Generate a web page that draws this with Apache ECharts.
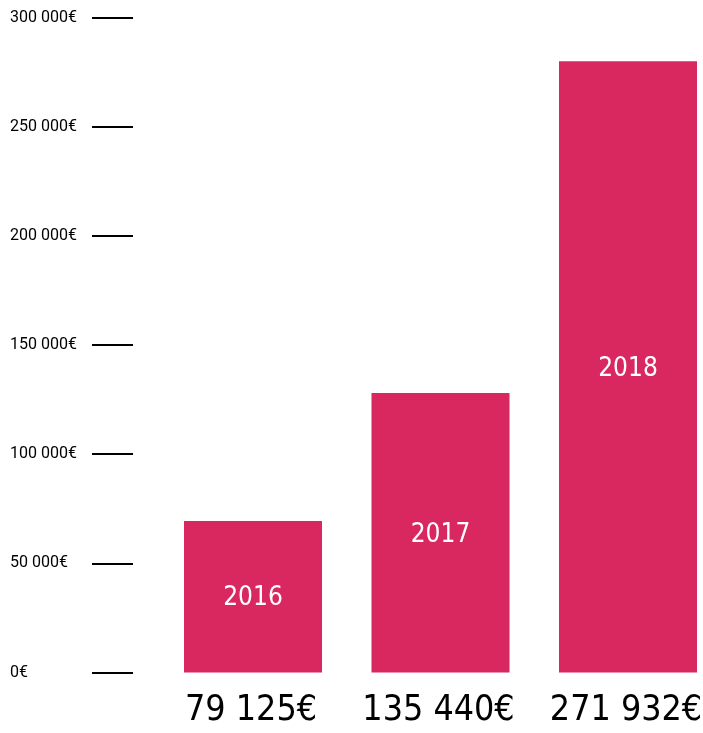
<!DOCTYPE html>
<html>
<head>
<meta charset="utf-8">
<style>html,body{margin:0;padding:0;background:#fff;}#c{width:703px;height:733px;}</style>
<script src="https://cdn.jsdelivr.net/npm/echarts@6/dist/echarts.min.js"></script>
</head>
<body>
<div id="c"></div>
<script>
const years = ['2016', '2017', '2018'];
const barValues = [69400, 128000, 280000];
const amountLabels = ['79 125€', '135 440€', '271 932€'];
const yTickLabels = ['0€', '50 000€', '100 000€', '150 000€', '200 000€', '250 000€', '300 000€'];

const narrow = '"DejaVu Sans Condensed", Roboto, sans-serif';
const chart = echarts.init(document.getElementById('c'));
chart.setOption({
  animation: false,
  backgroundColor: '#fff',
  grid: { left: 159.25, top: 17.5, right: -18.75, bottom: 60.5, containLabel: false, outerBoundsMode: 'none' },
  xAxis: {
    type: 'category',
    data: years,
    axisLine: { show: false },
    axisTick: { show: false },
    splitLine: { show: false },
    axisLabel: {
      interval: 0,
      margin: 18,
      padding: [0, 4, 0, 0],
      fontFamily: narrow,
      fontSize: 35.5,
      lineHeight: 40,
      color: '#000',
      formatter: (v, i) => amountLabels[i]
    }
  },
  yAxis: {
    type: 'value',
    min: 0,
    max: 300000,
    interval: 50000,
    offset: 26.25,
    splitLine: { show: false },
    axisLine: { show: false },
    axisTick: { show: true, length: 41, lineStyle: { color: '#000', width: 2 } },
    axisLabel: {
      align: 'left',
      margin: 123,
      fontFamily: 'Roboto',
      fontSize: 16,
      color: '#000',
      formatter: (v) => yTickLabels[Math.round(v / 50000)]
    }
  },
  series: [{
    type: 'bar',
    data: barValues,
    barWidth: 138,
    itemStyle: { color: '#d9275f' },
    label: {
      show: true,
      position: 'inside',
      offset: [0, 2],
      fontFamily: narrow,
      fontSize: 26,
      color: '#fff',
      formatter: (p) => years[p.dataIndex]
    }
  }]
});
</script>
</body>
</html>
